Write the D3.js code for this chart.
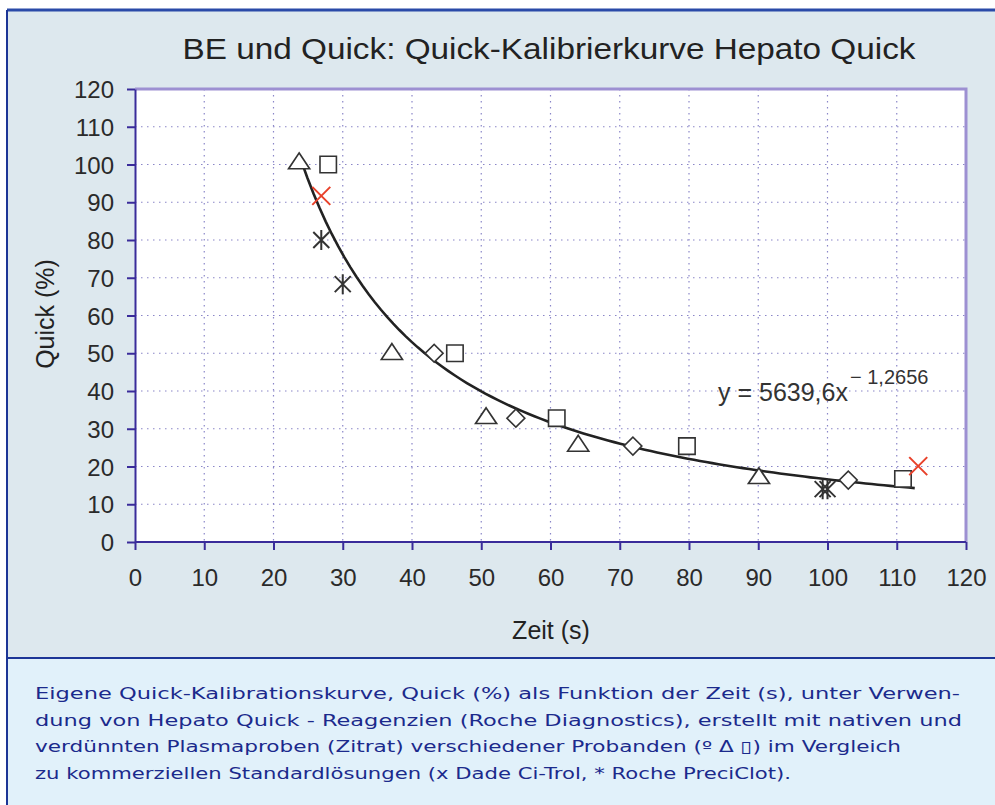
<!DOCTYPE html>
<html lang="de">
<head>
<meta charset="UTF-8">
<title>Quick-Kalibrierkurve</title>
<style>
  body { margin: 0; background: #fff; }
  svg { display: block; }
  .grid line { stroke: #8a86c8; stroke-width: 1.2px; stroke-dasharray: 1.5 4.5; }
  .axis path, .axis line { stroke: #3a2c9a; stroke-width: 2px; }
  .axis text { font-family: "Liberation Sans", Arial, sans-serif; font-size: 24px; fill: #2a2a2a; }
  .mark { fill: #fff; stroke: #333; stroke-width: 1.6px; }
  .caption { font-family: "DejaVu Sans", Verdana, sans-serif; font-size: 15.5px; fill: #1b2a8c; }
</style>
</head>
<body>
<script src="https://d3js.org/d3.v7.min.js"></script>
<script>
// measured points, Zeit (s) vs Quick (%)
const triangles = [[23.7, 100], [37.1, 49.5], [50.7, 32.5], [64, 25.2], [90.1, 16.6]];
const squares = [[27.9, 100], [46.2, 50], [60.9, 32.8], [79.7, 25.4], [110.9, 16.7]];
const diamonds = [[43.2, 50], [55, 32.8], [71.9, 25.4], [103, 16.4]];
const crosses = [[26.9, 91.7], [113.1, 20.1]];          // Dade Ci-Trol
const stars = [[26.9, 80], [30, 68.3], [99.3, 14], [100, 14]]; // Roche PreciClot
const xTicks = d3.range(0, 121, 10);
const yTicks = d3.range(0, 121, 10);
// power fit shown on chart: y = a * x^b
const fitA = 5639.6, fitB = -1.2656, fitFrom = 24, fitTo = 112.6;
const captionLines = [
  "Eigene Quick-Kalibrationskurve, Quick (%) als Funktion der Zeit (s), unter Verwen-",
  "dung von Hepato Quick - Reagenzien (Roche Diagnostics), erstellt mit nativen und",
  "verdünnten Plasmaproben (Zitrat) verschiedener Probanden (\u00BA \u0394 \u25AF) im Vergleich",
  "zu kommerziellen Standardlösungen (x Dade Ci-Trol, * Roche PreciClot)."
];
const captionWidths = [925, 927, 866, 756];

const W = 995, H = 805;
const svg = d3.select('body').append('svg').attr('width', W).attr('height', H);

// frame
svg.append('rect').attr('x', 7).attr('y', 10).attr('width', 1000).attr('height', 648)
  .attr('fill', '#dde8ee');
svg.append('rect').attr('x', 7).attr('y', 658).attr('width', 1000).attr('height', 160)
  .attr('fill', '#e1f1fa');
svg.append('line').attr('x1', 7).attr('x2', 1000).attr('y1', 10).attr('y2', 10)
  .attr('stroke', '#2a4aa8').attr('stroke-width', 3);
svg.append('line').attr('x1', 7).attr('x2', 7).attr('y1', 10).attr('y2', 805)
  .attr('stroke', '#1c3596').attr('stroke-width', 2);
svg.append('line').attr('x1', 7).attr('x2', 1000).attr('y1', 658).attr('y2', 658)
  .attr('stroke', '#1c3596').attr('stroke-width', 2);

const margin = { left: 135, top: 89, right: 966, bottom: 542 };
const x = d3.scaleLinear().domain([0, 120]).range([margin.left, margin.right]);
const y = d3.scaleLinear().domain([0, 120]).range([margin.bottom, margin.top]);

svg.append('rect').attr('x', margin.left).attr('y', margin.top)
  .attr('width', margin.right - margin.left).attr('height', margin.bottom - margin.top)
  .attr('fill', '#fff');

// dotted grid
const grid = svg.append('g').attr('class', 'grid');
grid.selectAll('.gx').data(xTicks.slice(1, -1)).join('line')
  .attr('x1', d => x(d)).attr('x2', d => x(d)).attr('y1', margin.top).attr('y2', margin.bottom);
grid.selectAll('.gy').data(yTicks.slice(1, -1)).join('line')
  .attr('y1', d => y(d)).attr('y2', d => y(d)).attr('x1', margin.left).attr('x2', margin.right);

// top + right plot border
svg.append('path')
  .attr('d', `M${margin.left},${margin.top}H${margin.right}V${margin.bottom}`)
  .attr('fill', 'none').attr('stroke', '#9d90d2').attr('stroke-width', 3);

const xAxis = svg.append('g').attr('class', 'axis')
  .attr('transform', `translate(0,${margin.bottom})`)
  .call(d3.axisBottom(x).tickValues(xTicks).tickSize(8).tickSizeOuter(0).tickPadding(19));
xAxis.select('.domain').attr('d', `M${margin.left},0H${margin.right}`);

const yAxis = svg.append('g').attr('class', 'axis')
  .attr('transform', `translate(${margin.left},0)`)
  .call(d3.axisLeft(y).tickValues(yTicks).tickSize(8).tickSizeOuter(0).tickPadding(13));
yAxis.selectAll('text').attr('dy', '0.36em');

// titles
svg.append('text').attr('x', 549).attr('y', 59).attr('text-anchor', 'middle')
  .style('font-family', '"Liberation Sans", Arial, sans-serif').style('font-size', '29px')
  .attr('textLength', 733).attr('lengthAdjust', 'spacingAndGlyphs')
  .attr('fill', '#222').text('BE und Quick: Quick-Kalibrierkurve Hepato Quick');
svg.append('text').attr('x', 551).attr('y', 639).attr('text-anchor', 'middle')
  .style('font-family', '"Liberation Sans", Arial, sans-serif').style('font-size', '25px')
  .attr('fill', '#222').text('Zeit (s)');
svg.append('text').attr('transform', 'translate(54,314) rotate(-90)').attr('text-anchor', 'middle')
  .style('font-family', '"Liberation Sans", Arial, sans-serif').style('font-size', '25px')
  .attr('fill', '#222').text('Quick (%)');

// fit curve
const fit = d3.range(0, 101).map(i => {
  const t = fitFrom + (fitTo - fitFrom) * i / 100;
  return [t, fitA * Math.pow(t, fitB)];
});
svg.append('path').datum(fit)
  .attr('d', d3.line().x(d => x(d[0])).y(d => y(d[1])))
  .attr('fill', 'none').attr('stroke', '#222').attr('stroke-width', 2.6);

// equation
const eq = svg.append('text').attr('x', 718).attr('y', 401)
  .style('font-family', '"Liberation Sans", Arial, sans-serif').style('font-size', '25px')
  .attr('fill', '#333');
eq.append('tspan').text('y = 5639,6x');
eq.append('tspan').attr('dy', -17).attr('dx', 2).style('font-size', '20px').text('\u2212 1,2656');

// markers
const sym = (type, size) => d3.symbol().type(type).size(size)();
svg.selectAll('.tri').data(triangles).join('path').attr('class', 'mark')
  .attr('d', sym(d3.symbolTriangle, 160))
  .attr('transform', d => `translate(${x(d[0])},${y(d[1]) - 1}) scale(1.1,0.95)`);
svg.selectAll('.sq').data(squares).join('path').attr('class', 'mark')
  .attr('d', sym(d3.symbolSquare, 270))
  .attr('transform', d => `translate(${x(d[0])},${y(d[1])})`);
svg.selectAll('.dia').data(diamonds).join('path').attr('class', 'mark')
  .attr('d', sym(d3.symbolSquare, 160))
  .attr('transform', d => `translate(${x(d[0])},${y(d[1])}) rotate(45)`);
svg.selectAll('.cr').data(crosses).join('path')
  .attr('d', 'M-9,-9L9,9M-9,9L9,-9')
  .attr('transform', d => `translate(${x(d[0])},${y(d[1])})`)
  .attr('stroke', '#e8412a').attr('stroke-width', 2).attr('fill', 'none');
svg.selectAll('.st').data(stars).join('path')
  .attr('d', 'M-8,-8L8,8M-8,8L8,-8M0,-10V10')
  .attr('transform', d => `translate(${x(d[0])},${y(d[1])})`)
  .attr('stroke', '#333').attr('stroke-width', 2).attr('fill', 'none');

// caption
svg.selectAll('.caption').data(captionLines).join('text').attr('class', 'caption')
  .attr('x', 35).attr('y', (d, i) => 699 + i * 26.6)
  .attr('textLength', (d, i) => captionWidths[i]).attr('lengthAdjust', 'spacingAndGlyphs')
  .text(d => d);
</script>
</body>
</html>
